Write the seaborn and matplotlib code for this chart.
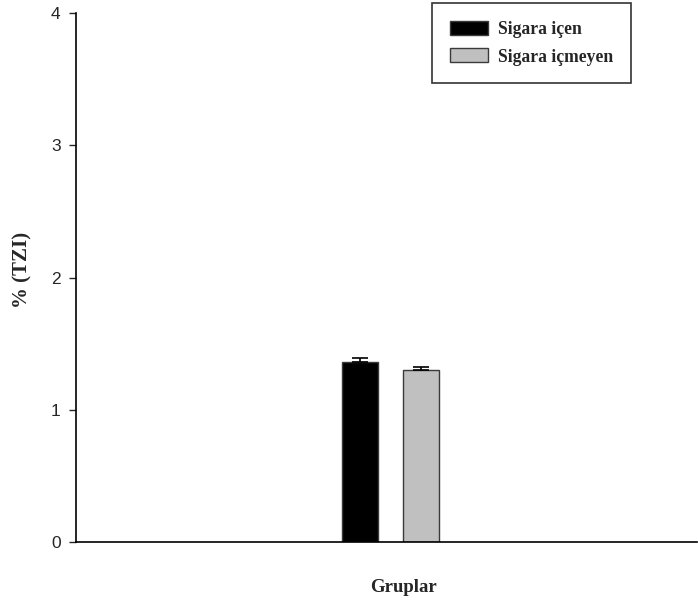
import numpy as np
import pandas as pd
import matplotlib
matplotlib.use("Agg")
import matplotlib.pyplot as plt
import seaborn as sns

# Data
groups = ["Sigara içen", "Sigara içmeyen"]
means = [1.36, 1.30]
errors = [0.035, 0.02]
colors = ["#000000", "#c0c0c0"]

df = pd.DataFrame({"grup": ["Gruplar", "Gruplar"], "durum": groups, "deger": means})

sns.set_style("ticks")
plt.rcParams["font.family"] = ["Liberation Sans", "DejaVu Sans"]

fig = plt.figure(figsize=(6.98, 6.05), dpi=100)
ax = fig.add_axes([76 / 698, 1 - 542 / 605, 621 / 698, 529 / 605])

sns.barplot(data=df, x="grup", y="deger", hue="durum", palette=colors,
            width=0.8, gap=0.41, errorbar=None, ax=ax, legend=False,
            edgecolor="#3a3a3a", linewidth=1.0)

# upper-only error bars at the bar centres
bars = ax.patches[:len(means)]
xs = [b.get_x() + b.get_width() / 2 for b in bars]
ax.errorbar(xs, means, yerr=[np.zeros(len(errors)), errors], fmt="none",
            ecolor="black", elinewidth=1.2, capsize=6, capthick=1.2)

ax.set_xlim(-2.06, 2.01)
ax.set_ylim(0, 4)
ax.set_yticks([0, 1, 2, 3, 4])
ax.set_xticks([])
ax.set_xlabel("")
ax.set_ylabel("")
ax.tick_params(axis="y", direction="out", length=5, width=1, labelsize=12.5, pad=6)
sns.despine(ax=ax)
for s in ["left", "bottom"]:
    ax.spines[s].set_linewidth(1.2)
    ax.spines[s].set_color("black")

serif = ["Liberation Serif", "DejaVu Serif"]
fig.text(404 / 698, 1 - 588 / 605, "Gruplar", ha="center", va="center",
         fontsize=13.5, fontweight="bold", family=serif)
fig.text(22 / 698, 1 - 270 / 605, "% (TZI)", ha="center", va="center",
         rotation=90, fontsize=15, fontweight="bold", family=serif)

handles = [plt.Rectangle((0, 0), 1, 1, facecolor=c, edgecolor="#3a3a3a", linewidth=1)
           for c in colors]
leg = fig.legend(handles, groups, loc="upper right",
                 bbox_to_anchor=(631 / 698, 1 - 3 / 605),
                 prop={"family": serif, "weight": "bold", "size": 12.7},
                 frameon=True, fancybox=False, edgecolor="black",
                 handlelength=2.2, handleheight=0.85, handletextpad=0.55,
                 labelspacing=0.6, borderpad=1.0, borderaxespad=0)
leg.get_frame().set_linewidth(1.2)

fig.savefig("out.png", dpi=100)
